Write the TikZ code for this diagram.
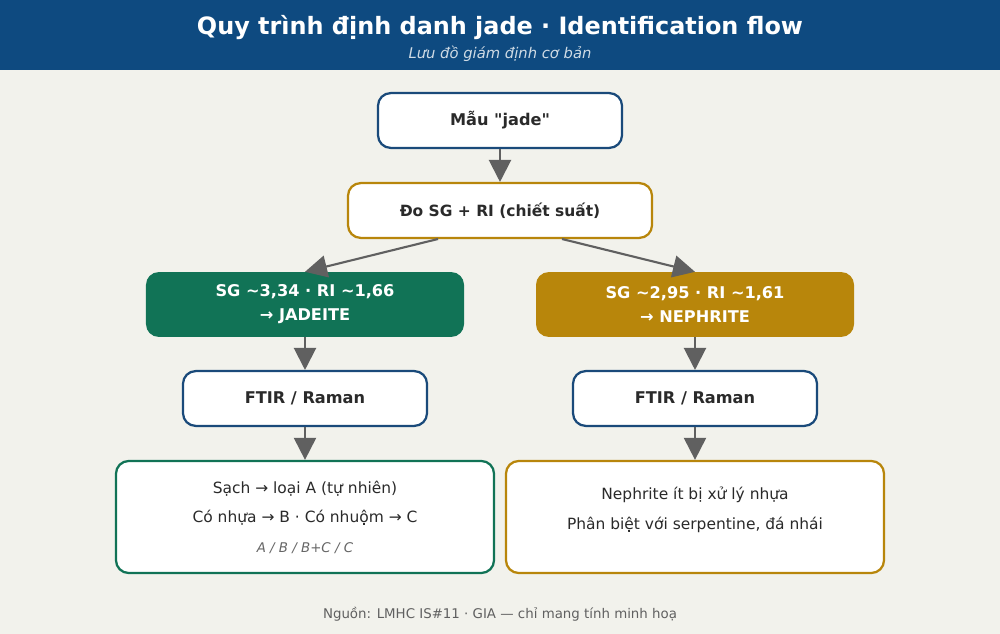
\documentclass[tikz,border=0pt]{standalone}
\usepackage{fontspec}
\setmainfont{DejaVu Sans}
\usetikzlibrary{arrows.meta,positioning}
\font\quotefont="DejaVu Sans/B" at 11.5pt
\newcommand{\dq}{{\quotefont\char34}}
\definecolor{hdrblue}{HTML}{0E4A80}
\definecolor{bgpaper}{HTML}{F2F2EC}
\definecolor{boxblue}{HTML}{1A4A7A}
\definecolor{gold}{HTML}{B8860B}
\definecolor{jadegreen}{HTML}{117356}
\definecolor{arrowgray}{HTML}{606060}
\definecolor{txtdark}{HTML}{2A2A2A}
\tikzset{
  box/.style={draw, line width=1.6pt, rounded corners=9pt, fill=white, text=txtdark,
    font=\fontsize{11.5}{14}\selectfont\bfseries, align=center},
  stepbox/.style={box, draw=boxblue, minimum width=61mm, minimum height=13.7mm},
  result/.style={rounded corners=9pt, text=white, align=center,
    font=\fontsize{11.5}{17}\selectfont\bfseries, minimum width=79.5mm, minimum height=16.2mm},
  note/.style={draw, line width=1.6pt, rounded corners=9pt, fill=white, text=txtdark,
    align=center, font=\fontsize{11}{21}\selectfont, minimum width=94.5mm, minimum height=28mm},
  flow/.style={-{Triangle[length=5.5mm,width=5.5mm]}, draw=arrowgray, fill=arrowgray, line width=1.5pt}
}
\begin{document}
\begin{tikzpicture}[x=0.25mm,y=-0.25mm]
\useasboundingbox (0,0) rectangle (1000,634);
\fill[bgpaper] (0,0) rectangle (1000,634);
\fill[hdrblue] (0,0) rectangle (1000,70);
\node[text=white, font=\fontsize{17}{20}\selectfont\bfseries] (title) at (500,28) {Quy trình định danh jade · Identification flow};
\node[text=white!80!hdrblue, font=\fontsize{10.5}{12}\selectfont\itshape] (subtitle) at (500,54) {Lưu đồ giám định cơ bản};

\node[stepbox] (sample) at (500,120.5) {Mẫu \dq jade\dq};
\node[box, draw=gold, minimum width=76mm, minimum height=13.7mm, font=\fontsize{11}{13}\selectfont\bfseries] (measure) at (500,210.5) {Đo SG + RI (chiết suất)};

\node[result, fill=jadegreen] (jadeite) at (305,304.5) {SG \textasciitilde3,34 · RI \textasciitilde1,66\\→ JADEITE};
\node[result, fill=gold] (nephrite) at (695,304.5) {SG \textasciitilde2,95 · RI \textasciitilde1,61\\→ NEPHRITE};

\node[stepbox] (ftirL) at (305,398.5) {FTIR / Raman};
\node[stepbox] (ftirR) at (695,398.5) {FTIR / Raman};

\node[note, draw=jadegreen] (gradeL) at (305,517) {Sạch → loại A (tự nhiên)\\Có nhựa → B · Có nhuộm → C\\{\fontsize{9.5}{12}\selectfont\itshape\color{gray!80!black} A / B / B+C / C}};
\node[note, draw=gold] (gradeR) at (695,517) {};
\node[text=txtdark, align=center, font=\fontsize{11}{21}\selectfont] (gradeRtext) at (695,510) {Nephrite ít bị xử lý nhựa\\Phân biệt với serpentine, đá nhái};

\node[text=gray!75!black, font=\fontsize{9.5}{12}\selectfont] (source) at (500,614) {Nguồn: LMHC IS\#11 · GIA — chỉ mang tính minh hoạ};

\draw[flow] (sample) -- (measure);
\draw[flow] (438,239) -- (jadeite.north);
\draw[flow] (562,239) -- (nephrite.north);
\draw[flow] (jadeite) -- (ftirL);
\draw[flow] (nephrite) -- (ftirR);
\draw[flow] (ftirL) -- (gradeL);
\draw[flow] (ftirR) -- (gradeR);
\end{tikzpicture}
\end{document}
